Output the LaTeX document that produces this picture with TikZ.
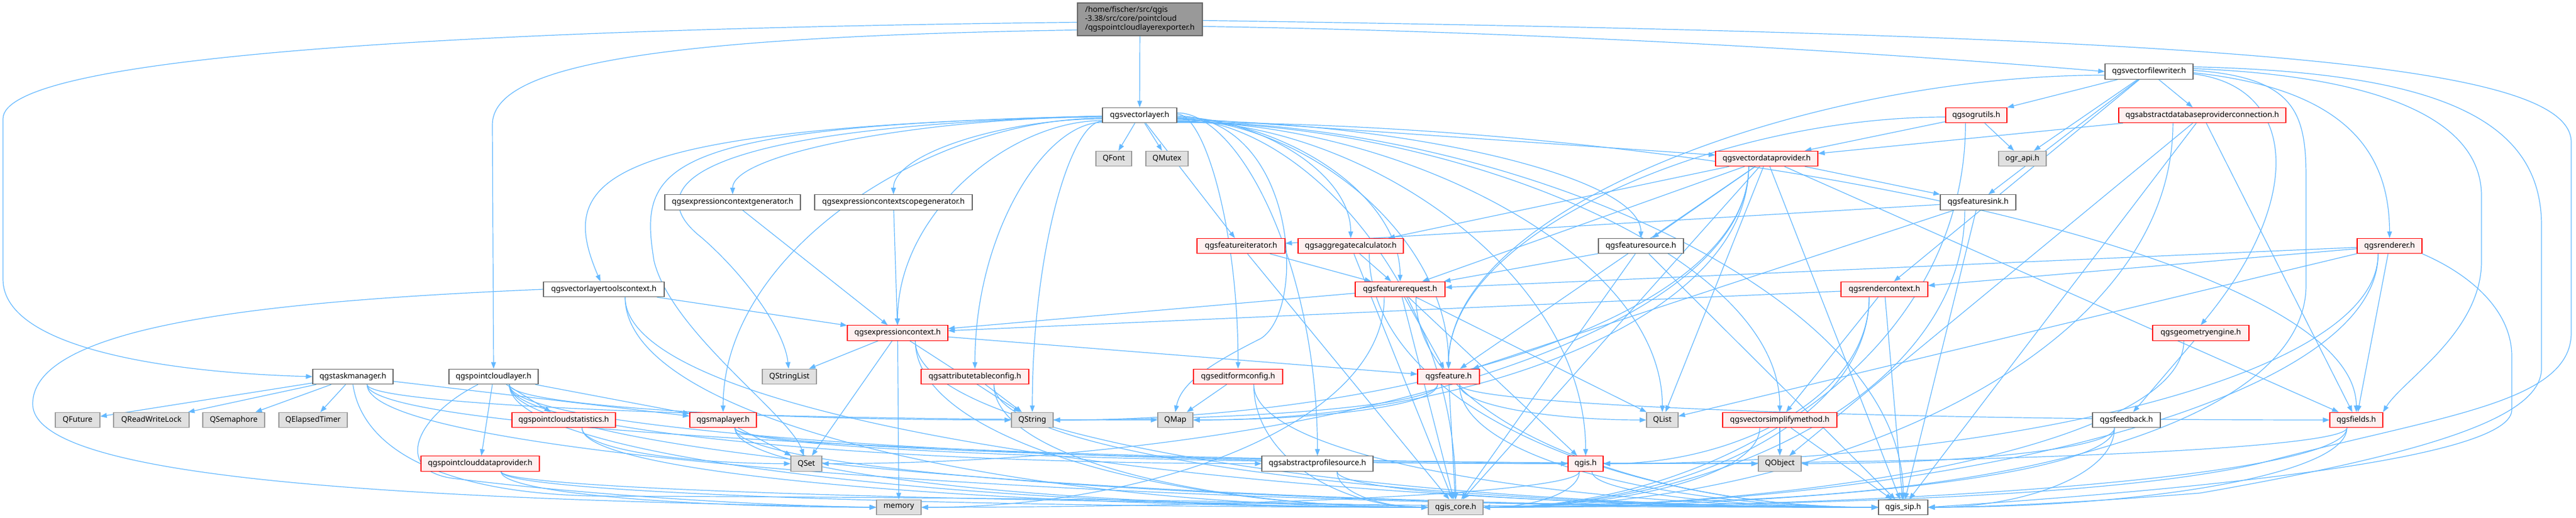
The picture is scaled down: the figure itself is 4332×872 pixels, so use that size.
\documentclass[tikz,border=0pt]{standalone}
\usepackage{fontspec}
\setmainfont{Noto Sans}
\usetikzlibrary{arrows.meta,calc}
\pgfdeclarelayer{bg}
\pgfsetlayers{bg,main}
\definecolor{edgec}{HTML}{63B8FF}
\definecolor{bordg}{HTML}{666666}
\definecolor{bordl}{HTML}{999999}
\definecolor{fillx}{HTML}{E0E0E0}
\definecolor{fillr}{HTML}{FFF0F0}
\definecolor{fillroot}{HTML}{999999}
\definecolor{redb}{HTML}{FF0000}
\tikzset{
  box/.style={draw, rectangle, minimum height=25.5pt, inner sep=0pt, line width=1.1pt,
    font=\fontsize{13}{15}\selectfont, anchor=center},
  wnode/.style={box, draw=bordg, fill=white},
  rnode/.style={box, draw=redb, fill=fillr},
  gnode/.style={box, draw=bordl, fill=fillx},
  rootn/.style={box, draw=bordg, fill=fillroot},
  e/.style={draw=edgec, line width=1.2pt, -{Triangle[length=11pt,width=8pt]}},
}
% edge helpers: down then into the west / east side of the target
\newcommand\EL[2]{\draw[e] let \p1=($(#1.south)!0.35!(#1.south east)$), \p2=(#2.west) in (\p1) .. controls (\x1,{\y1+0.6*(\y2-\y1)}) and ({\x2+0.5*(\x1-\x2)},\y2) .. (\p2);}
\newcommand\ER[2]{\draw[e] let \p1=($(#1.south)!0.35!(#1.south west)$), \p2=(#2.east) in (\p1) .. controls (\x1,{\y1+0.6*(\y2-\y1)}) and ({\x2+0.5*(\x1-\x2)},\y2) .. (\p2);}
% sideways out of the source, then down into the top of the target
\newcommand\FR[3][0]{\draw[e] let \p1=([yshift=#1pt]#2.east), \p2=(#3.north) in (\p1) .. controls ({\x1+0.45*(\x2-\x1)},\y1) and (\x2,{\y2+0.55*(\y1-\y2)}) .. (\p2);}
\newcommand\FL[3][0]{\draw[e] let \p1=([yshift=#1pt]#2.west), \p2=(#3.north) in (\p1) .. controls ({\x1+0.45*(\x2-\x1)},\y1) and (\x2,{\y2+0.55*(\y1-\y2)}) .. (\p2);}
\begin{document}
\begin{tikzpicture}[x=1pt,y=1pt]
\useasboundingbox (0,0) rectangle (4332,-872);
% nodes
\node[rootn, minimum width=210pt, minimum height=55pt, align=left] (root) at (1917,-32.5) {/home/fischer/src/qgis\\-3.38/src/core/pointcloud\\/qgspointcloudlayerexporter.h};
\node[wnode, minimum width=148pt] (vfw) at (3614,-120.5) {qgsvectorfilewriter.h};
\node[wnode, minimum width=125pt] (vl) at (1916.5,-194) {qgsvectorlayer.h};
\node[rnode, minimum width=103pt] (ogru) at (3323.5,-194) {qgsogrutils.h};
\node[rnode, minimum width=281pt] (adpc) at (3703.5,-194) {qgsabstractdatabaseproviderconnection.h};
\node[gnode, minimum width=60pt] (qfont) at (1873,-267) {QFont};
\node[gnode, minimum width=71pt] (qmutex) at (1962.5,-267) {QMutex};
\node[rnode, minimum width=172pt] (vdp) at (2971,-267) {qgsvectordataprovider.h};
\node[gnode, minimum width=80pt] (ograpi) at (3401,-267) {ogr\_api.h};
\node[wnode, minimum width=228pt] (ecg) at (1232,-340.5) {qgsexpressioncontextgenerator.h};
\node[wnode, minimum width=265pt] (ecsg) at (1502.5,-340.5) {qgsexpressioncontextscopegenerator.h};
\node[wnode, minimum width=127pt] (fsink) at (3326.5,-340.5) {qgsfeaturesink.h};
\node[rnode, minimum width=148pt] (fit) at (2087,-414) {qgsfeatureiterator.h};
\node[rnode, minimum width=177pt] (aggc) at (2271.5,-414) {qgsaggregatecalculator.h};
\node[wnode, minimum width=143pt] (fsrc) at (2759.5,-414) {qgsfeaturesource.h};
\node[rnode, minimum width=109pt] (rend) at (4018.5,-414) {qgsrenderer.h};
\node[wnode, minimum width=203pt] (vltc) at (1015.5,-487) {qgsvectorlayertoolscontext.h};
\node[rnode, minimum width=151pt] (freq) at (2354.5,-487) {qgsfeaturerequest.h};
\node[rnode, minimum width=146pt] (rctx) at (3169,-487) {qgsrendercontext.h};
\node[rnode, minimum width=169pt] (ectx) at (1509.5,-560.5) {qgsexpressioncontext.h};
\node[rnode, minimum width=162pt] (geng) at (3701,-560.5) {qgsgeometryengine.h};
\node[wnode, minimum width=135pt] (tm) at (593.5,-634) {qgstaskmanager.h};
\node[wnode, minimum width=150pt] (pcl) at (830,-634) {qgspointcloudlayer.h};
\node[gnode, minimum width=91pt] (qsl) at (1327.5,-634) {QStringList};
\node[rnode, minimum width=181pt] (atc) at (1639.5,-634) {qgsattributetableconfig.h};
\node[rnode, minimum width=150pt] (efc) at (2082,-634) {qgseditformconfig.h};
\node[rnode, minimum width=104pt] (feat) at (2436,-634) {qgsfeature.h};
\node[gnode, minimum width=75pt] (qfut) at (130.5,-707) {QFuture};
\node[gnode, minimum width=127pt] (qrwl) at (254.5,-707) {QReadWriteLock};
\node[gnode, minimum width=104pt] (qsem) at (393,-707) {QSemaphore};
\node[gnode, minimum width=115pt] (qet) at (526.5,-707) {QElapsedTimer};
\node[rnode, minimum width=174pt] (pcs) at (948,-707) {qgspointcloudstatistics.h};
\node[rnode, minimum width=112pt] (ml) at (1216,-707) {qgsmaplayer.h};
\node[gnode, minimum width=70pt] (qstr) at (1736,-707) {QString};
\node[gnode, minimum width=59pt] (qmap) at (1976.5,-707) {QMap};
\node[gnode, minimum width=53pt] (qlist) at (2795.5,-707) {QList};
\node[rnode, minimum width=192pt] (vsm) at (2993,-707) {qgsvectorsimplifymethod.h};
\node[wnode, minimum width=114pt] (fb) at (3576,-707) {qgsfeedback.h};
\node[rnode, minimum width=89pt] (fields) at (3962.5,-707) {qgsfields.h};
\node[rnode, minimum width=199pt] (pcdp) at (807.5,-780.5) {qgspointclouddataprovider.h};
\node[gnode, minimum width=52pt] (qset) at (1356,-780.5) {QSet};
\node[wnode, minimum width=187pt] (aps) at (2215.5,-780.5) {qgsabstractprofilesource.h};
\node[rnode, minimum width=59pt] (qgis) at (2666.5,-780.5) {qgis.h};
\node[gnode, minimum width=72pt] (qobj) at (2993,-780.5) {QObject};
\node[gnode, minimum width=75pt] (mem) at (1511.5,-854) {memory};
\node[gnode, minimum width=92pt] (core) at (2448,-854) {qgis\_core.h};
\node[wnode, minimum width=83pt] (sip) at (3200.5,-854) {qgis\_sip.h};
% edges
\begin{pgfonlayer}{bg}
\foreach \a/\b in {root/vl,
  vfw/ogru, vfw/ograpi, vfw/fsink, vfw/adpc, vfw/rctx,
  vl/qfont, vl/qmutex, vl/fit, vl/vdp,
  ogru/vdp, ogru/ograpi,
  adpc/vdp, adpc/fields, adpc/sip, adpc/qobj,
  vdp/fsink, vdp/fsrc, vdp/aggc, vdp/freq, vdp/feat, vdp/fields, vdp/qlist, vdp/core, vdp/sip,
  ecg/ectx, ecsg/ectx,
  fsink/fit, fsink/feat, fsink/sip,
  fit/freq, fit/core,
  aggc/freq, aggc/core,
  fsrc/freq, fsrc/core, fsrc/sip,
  rend/freq, rend/rctx, rend/fields, rend/qlist,
  vltc/ectx,
  freq/feat, freq/ectx, freq/qlist, freq/qgis, freq/core,
  rctx/vsm, rctx/ectx, rctx/sip,
  ectx/qsl, ectx/qset, ectx/qstr, ectx/feat, ectx/mem,
  geng/fb,
  tm/qfut, tm/qrwl, tm/qsem, tm/qet, tm/ml,
  pcl/pcs, pcl/pcdp, pcl/ml,
  atc/qstr, efc/qmap, feat/core, ml/qset, vsm/qobj, vsm/sip}
  { \draw[e] (\a) -- (\b); }
\foreach \a/\b in {vltc/core, vltc/sip, aggc/sip, freq/sip, ectx/core, ectx/sip,
  tm/qobj, tm/qmap, tm/sip, pcl/core, pcl/sip, pcl/qgis, pcl/qstr, pcl/aps,
  atc/core, atc/sip, efc/core, efc/sip, feat/qlist, feat/fields, feat/sip,
  pcs/qset, pcs/core, ml/qobj, ml/qgis, ml/core, ml/sip,
  pcdp/core, pcdp/sip, pcdp/mem, aps/core, aps/sip, qgis/sip}
  { \EL{\a}{\b} }
\foreach \a/\b in {vdp/qset, vdp/qstr, vdp/qmap, ogru/core, adpc/core, fsink/core,
  rend/qgis, rend/core, freq/mem, rctx/qgis, rctx/core, geng/core, feat/qmap, feat/qstr,
  vsm/core, fb/qobj, fb/core, fb/sip, fields/qgis, fields/core, fields/sip, qgis/core, qgis/mem}
  { \ER{\a}{\b} }
\foreach \b/\s in {aggc/-3, fsrc/-9, freq/-5, feat/-7, efc/2, qlist/-11, qgis/-10, aps/4,
  vsm/-12, fields/-12, sip/-11, core/-6}
  { \FR[\s]{vl}{\b} }
\foreach \b/\s in {ecg/-3, ecsg/-6, ectx/-9, atc/-12, qstr/-10, ml/-5}
  { \FL[\s]{vl}{\b} }
\FL[-6]{vfw}{feat}
\FL[-3]{ogru}{feat}
% routed edges
\draw[e] ([yshift=-5pt]root.west) .. controls (700,-50) and (5,-100) .. (5,-200) -- (5,-470) .. controls (5,-590) and (300,-628) .. (tm.west);
\draw[e] ([yshift=-18pt]root.west) .. controls (1100,-62) and (828,-110) .. (828,-210) -- (pcl.north);
\draw[e] ([yshift=-12pt]root.east) .. controls (2700,-55) and (3300,-100) .. (vfw.west);
\draw[e] ([yshift=-2pt]root.east) .. controls (3800,-60) and (4324,-110) .. (4324,-240) -- (4324,-560) .. controls (4324,-680) and (4100,-700) .. (3800,-780) .. controls (3500,-850) and (2800,-850) .. (core.east);
\draw[e] (vltc.west) .. controls (500,-505) and (55,-540) .. (55,-680) .. controls (55,-810) and (700,-840) .. (mem.west);
\draw[e] (pcl) .. controls (700,-700) and (660,-790) .. (760,-805) .. controls (1000,-835) and (1300,-852) .. (mem.west);
\draw[e] (tm.south) .. controls (610,-760) and (750,-830) .. (1000,-835) .. controls (1800,-838) and (2200,-845) .. (core.west);
\draw[e] ([yshift=5pt]vfw.east) .. controls (4000,-128) and (4173,-200) .. (4173,-330) -- (4173,-440) .. controls (4173,-560) and (4040,-640) .. (fields.north east);
\draw[e] ([yshift=8pt]vfw.east) .. controls (4100,-122) and (4274,-200) .. (4274,-380) -- (4274,-620) .. controls (4274,-700) and (4100,-760) .. (3700,-830) .. controls (3450,-850) and (3300,-854) .. (sip.east);
\draw[e] (rend.south east) .. controls (4150,-460) and (4224,-520) .. (4224,-600) -- (4224,-690) .. controls (4224,-780) and (3600,-830) .. (sip.east);
\draw[e] ([yshift=-4pt]vfw.east) .. controls (3860,-145) and (3880,-330) .. (geng.north);
\draw[e] ([yshift=-2pt]vfw.east) .. controls (3950,-150) and (4018,-260) .. (rend.north);
\draw[e] ([yshift=2pt]vfw.east) .. controls (3860,-130) and (3878,-190) .. (3878,-300) -- (3878,-480) .. controls (3878,-680) and (3500,-820) .. (2900,-842) .. controls (2700,-848) and (2550,-852) .. (core.east);
\draw[e] (vl) .. controls (1000,-215) and (935,-300) .. (vltc);
\draw[e] (vl) .. controls (1100,-215) and (1090,-330) .. (1180,-400) .. controls (1260,-470) and (1320,-560) .. (qsl);
\draw[e] (vl) .. controls (1100,-212) and (1074,-280) .. (1100,-440) .. controls (1130,-560) and (1330,-700) .. (qset);
\draw[e] ([yshift=-1pt]vl.east) .. controls (2180,-200) and (2200,-520) .. (2120,-570) .. controls (2020,-620) and (1985,-650) .. (qmap.north);
\end{pgfonlayer}
\end{tikzpicture}
\end{document}
